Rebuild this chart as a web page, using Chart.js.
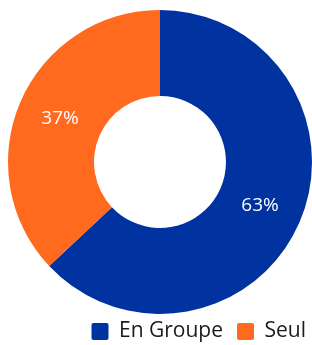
<!DOCTYPE html>
<html>
<head>
<meta charset="utf-8">
<script src="https://cdn.jsdelivr.net/npm/chart.js@4/dist/chart.umd.min.js"></script>
<style>
    html, body { margin: 0; padding: 0; background: #fff; }
    #wrap { width: 312px; height: 345px; }
</style>
</head>
<body>
<div id="wrap"><canvas id="shareChart"></canvas></div>
<script>
// Data
const categories = ['En Groupe', 'Seul'];
const shares = [63, 37];
const sliceColors = ['#0033a0', '#ff6a1f'];

// Draw percentage labels in the middle of each slice
const sliceLabels = {
    id: 'sliceLabels',
    afterDatasetsDraw(chart) {
        const ctx = chart.ctx;
        const meta = chart.getDatasetMeta(0);
        ctx.save();
        ctx.fillStyle = '#ffffff';
        ctx.font = '19px "Open Sans"';
        ctx.textAlign = 'center';
        ctx.textBaseline = 'middle';
        meta.data.forEach((arc, i) => {
            const pos = arc.tooltipPosition();
            ctx.fillText(shares[i] + '%', pos.x, pos.y);
        });
        ctx.restore();
    }
};

document.addEventListener('DOMContentLoaded', () => {
    const ctx = document.getElementById('shareChart').getContext('2d');
    new Chart(ctx, {
        type: 'doughnut',
        data: {
            labels: categories,
            datasets: [{
                data: shares,
                backgroundColor: sliceColors,
                borderWidth: 0,
                radius: 152,
                clip: false
            }]
        },
        options: {
            responsive: true,
            maintainAspectRatio: false,
            animation: false,
            cutout: '43.4%',
            layout: {
                padding: { top: 17, left: 8, right: -8, bottom: -7 }
            },
            plugins: {
                legend: {
                    position: 'bottom',
                    align: 'end',
                    labels: {
                        color: '#1a1a1a',
                        font: { family: 'Open Sans', size: 21 },
                        boxWidth: 17,
                        boxHeight: 17,
                        padding: 14,
                        useBorderRadius: true,
                        borderRadius: 2
                    }
                },
                tooltip: { enabled: false }
            }
        },
        plugins: [sliceLabels]
    });
});
</script>
</body>
</html>
